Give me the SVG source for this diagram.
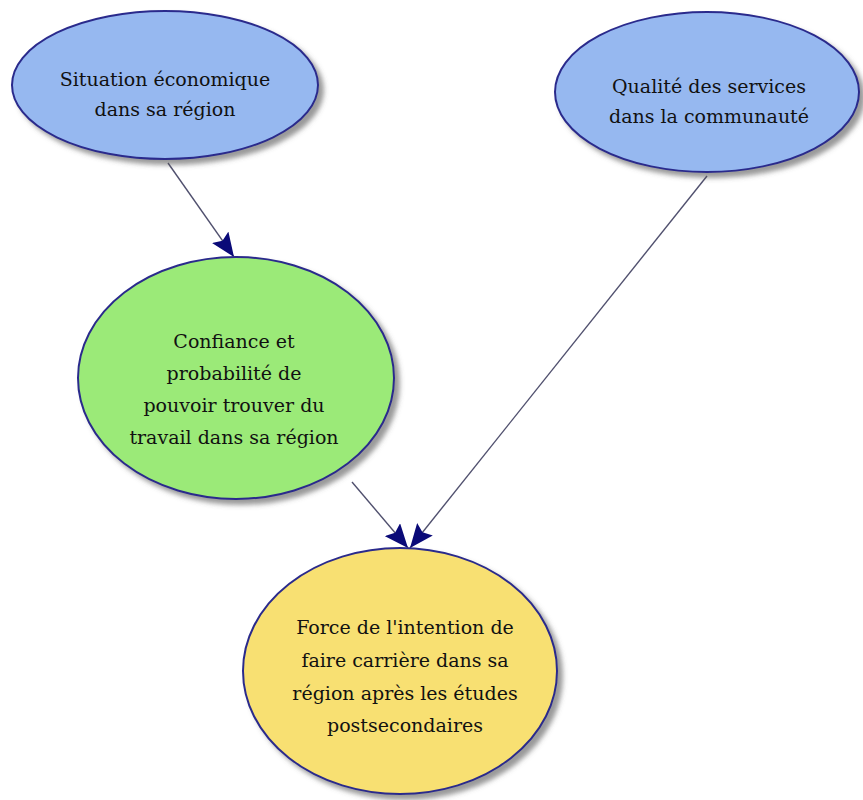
<svg xmlns="http://www.w3.org/2000/svg" width="863" height="800" viewBox="0 0 863 800">
<defs>
<style>
.node{stroke:#2b2b8c;stroke-width:2;filter:url(#sh)}
.blue{fill:#96b8f0}
.green{fill:#9bea78}
.yellow{fill:#f8e072}
.lbl{font-family:"DejaVu Serif","Liberation Serif",serif;font-size:19px;fill:#111;text-anchor:middle}
.edge{stroke:#50506e;stroke-width:1.4;fill:none;marker-end:url(#ah)}
</style>
<filter id="sh" x="-10%" y="-10%" width="125%" height="125%">
<feDropShadow dx="5" dy="5" stdDeviation="2.5" flood-color="#555" flood-opacity="0.6"/>
</filter>
<marker id="ah" viewBox="0 0 24 20" refX="24" refY="10" markerWidth="24" markerHeight="20" markerUnits="userSpaceOnUse" orient="auto">
<path d="M0,0 L24,10 L0,20 L4,10 Z" fill="#0a0a78"/>
</marker>
</defs>
<rect width="863" height="800" fill="#ffffff"/>
<g id="connectors">
<line class="edge" x1="168" y1="163" x2="234" y2="257"/>
<line class="edge" x1="352" y1="482" x2="408" y2="548"/>
<line class="edge" x1="707" y1="176" x2="410" y2="548"/>
</g>
<g id="n1">
<ellipse class="node blue" cx="165" cy="85" rx="153" ry="74"/>
<text class="lbl" x="165" y="86">Situation économique</text>
<text class="lbl" x="165" y="116">dans sa région</text>
</g>
<g id="n2">
<ellipse class="node blue" cx="707" cy="92" rx="152" ry="80"/>
<text class="lbl" x="709" y="93">Qualité des services</text>
<text class="lbl" x="709" y="123">dans la communauté</text>
</g>
<g id="n3">
<ellipse class="node green" cx="236" cy="378" rx="158" ry="121"/>
<text class="lbl" x="234" y="348">Confiance et</text>
<text class="lbl" x="234" y="380">probabilité de</text>
<text class="lbl" x="234" y="412">pouvoir trouver du</text>
<text class="lbl" x="234" y="444">travail dans sa région</text>
</g>
<g id="n4">
<ellipse class="node yellow" cx="400" cy="671" rx="157" ry="123"/>
<text class="lbl" x="405" y="634">Force de l'intention de</text>
<text class="lbl" x="405" y="667">faire carrière dans sa</text>
<text class="lbl" x="405" y="700">région après les études</text>
<text class="lbl" x="405" y="732">postsecondaires</text>
</g>
</svg>
